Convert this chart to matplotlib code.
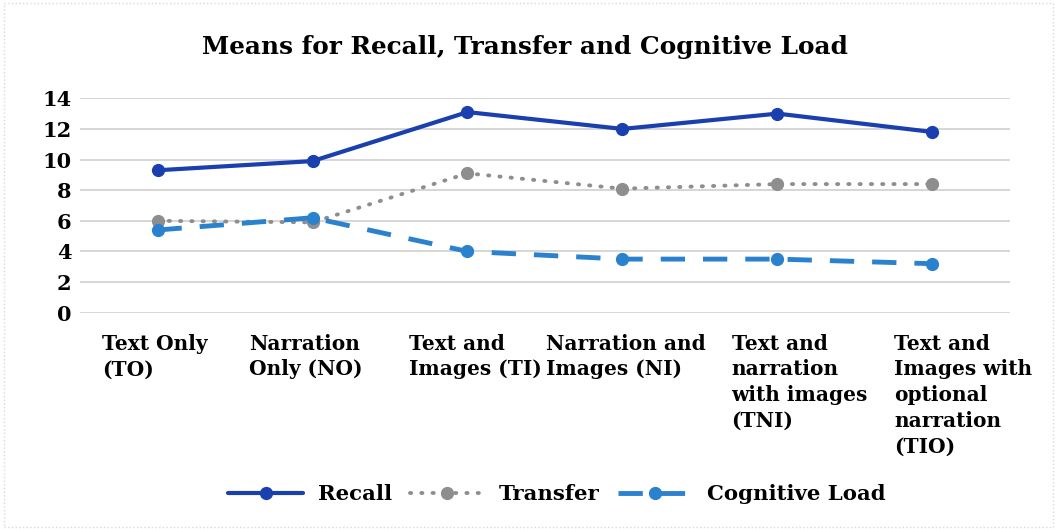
import matplotlib
matplotlib.use("Agg")
import matplotlib.pyplot as plt
from matplotlib.patches import Rectangle

categories = ["Text Only\n(TO)", "Narration\nOnly (NO)", "Text and\nImages (TI)",
              "Narration and\nImages (NI)", "Text and\nnarration\nwith images\n(TNI)",
              "Text and\nImages with\noptional\nnarration\n(TIO)"]
recall = [9.3, 9.9, 13.1, 12.0, 13.0, 11.8]
transfer = [6.0, 5.9, 9.1, 8.1, 8.4, 8.4]
cognitive = [5.4, 6.2, 4.0, 3.5, 3.5, 3.2]
yticks = [0, 2, 4, 6, 8, 10, 12, 14]

# layout: left edge of each category label relative to its tick (points)
label_offsets = [-39.6, -45.4, -41.8, -55.4, -33.1, -27.4]

plt.rcParams['font.family'] = ['DejaVu Serif', 'Liberation Serif']
plt.rcParams['font.weight'] = 'bold'

fig = plt.figure(figsize=(10.57, 5.29), dpi=100)
ax = fig.add_axes([80/1057, 1-312.7/529, 930/1057, (312.7-98.3)/529])

x = list(range(len(categories)))
ax.plot(x, recall, color='#1A3FAE', lw=3, marker='o', ms=8.5, label='Recall',
        solid_capstyle='round')
ax.plot(x, transfer, color='#8E8E8E', lw=2.8, ls=(0, (0.3, 2.6)), dash_capstyle='round',
        marker='o', ms=8.5, label='Transfer')
ax.plot(x, cognitive, color='#2A82CF', lw=3.5, ls=(0, (5, 3.7)), marker='o', ms=8.5,
        label='Cognitive Load')

ax.set_xlim(-0.5, len(categories) - 0.5)
ax.set_ylim(0, 14)
ax.set_yticks(yticks)
ax.set_yticklabels([str(v) for v in yticks], fontsize=15, fontweight='bold')
ax.grid(axis='y', color='#D0D0D0', lw=1.2)
ax.set_axisbelow(True)
for s in ax.spines.values():
    s.set_visible(False)
ax.tick_params(axis='both', length=0)
ax.tick_params(axis='y', pad=6)
ax.set_xticks(x)
ax.set_xticklabels([])
for xi, lab, off in zip(x, categories, label_offsets):
    ax.annotate(lab, xy=(xi, 0), xycoords=('data', 'axes fraction'),
                xytext=(off, -15), textcoords='offset points', ha='left', va='top',
                multialignment='left', fontsize=14.5, fontweight='bold', linespacing=1.36)

fig.suptitle("Means for Recall, Transfer and Cognitive Load", x=0.497, y=1-47/529,
             va='center', fontsize=17.8, fontweight='bold')

leg = fig.legend(loc='center', bbox_to_anchor=(0.527, 1-494/529), ncol=3, frameon=False,
                 fontsize=15.3, handlelength=3.5, columnspacing=0.85, handletextpad=0.7)

fig.patches.append(Rectangle((0.004, 0.004), 0.992, 0.99, transform=fig.transFigure,
                             fill=False, edgecolor='#D9D9D9', lw=1, ls=':'))

fig.savefig("out.png", dpi=100)
